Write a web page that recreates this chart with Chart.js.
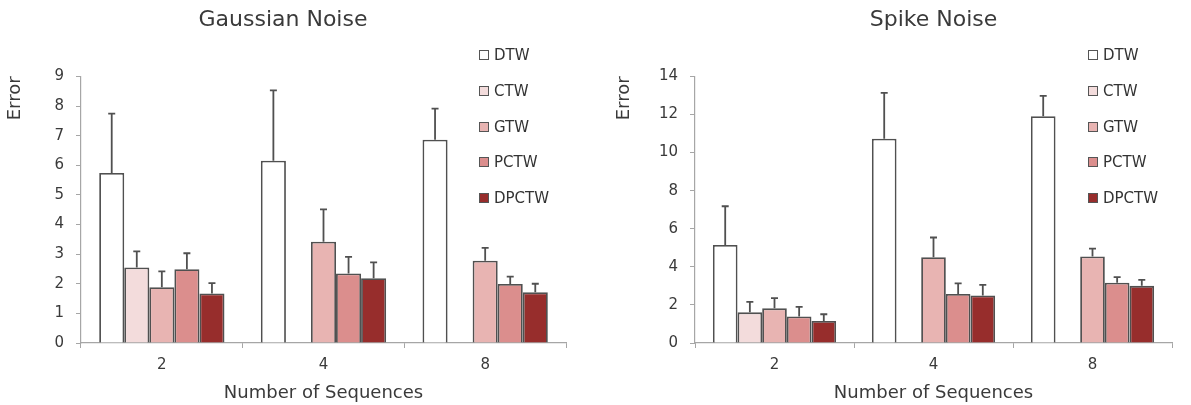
<!DOCTYPE html>
<html>
<head>
<meta charset="utf-8">
<script src="https://cdn.jsdelivr.net/npm/chart.js@4.4.1/dist/chart.umd.min.js"></script>
<style>
  body { margin: 0; background: #fff; }
  #wrap { position: relative; width: 1191px; height: 405px; overflow: hidden; }
  canvas { position: absolute; top: 0; }
  .leg { position: absolute; font: 15px "DejaVu Sans", sans-serif; color: #333; line-height: 18px; white-space: nowrap; }
  .leg span { position: absolute; top: 4px; width: 8px; height: 8px; border: 1.5px solid #555; }
</style>
</head>
<body>
<div id="wrap">
  <canvas id="gaussChart" width="675" height="405" style="left:0px"></canvas>
  <canvas id="spikeChart" width="591" height="405" style="left:600px"></canvas>
</div>
<script>
const categories = ['2', '4', '8'];
const methods = ['DTW', 'CTW', 'GTW', 'PCTW', 'DPCTW'];
const methodColors = ['#ffffff', '#f3dcdc', '#e8b4b2', '#db8e8d', '#972d2c'];

// Gaussian noise: mean error and upper error bar size
const gaussianDTW = [5.74, 6.15, 6.86];
const gaussianCTW = [2.55, null, null];
const gaussianGTW = [1.88, 3.42, 2.78];
const gaussianPCTW = [2.49, 2.35, 1.99];
const gaussianDPCTW = [1.67, 2.19, 1.71];
const gaussianDTWErr = [2.0, 2.38, 1.05];
const gaussianCTWErr = [0.54, null, null];
const gaussianGTWErr = [0.54, 1.09, 0.43];
const gaussianPCTWErr = [0.54, 0.56, 0.25];
const gaussianDPCTWErr = [0.35, 0.53, 0.29];

// Spike noise
const spikeDTW = [5.15, 10.73, 11.91];
const spikeCTW = [1.61, null, null];
const spikeGTW = [1.82, 4.5, 4.54];
const spikePCTW = [1.39, 2.57, 3.16];
const spikeDPCTW = [1.16, 2.5, 3.0];
const spikeDTWErr = [2.03, 2.41, 1.07];
const spikeCTWErr = [0.55, null, null];
const spikeGTWErr = [0.54, 1.04, 0.42];
const spikePCTWErr = [0.51, 0.56, 0.3];
const spikeDPCTWErr = [0.35, 0.55, 0.32];

const gaussianMax = 9, gaussianStep = 1;
const spikeMax = 14, spikeStep = 2;

const textColor = '#3a3a3a';
const axisColor = '#a6a6a6';

const errorBars = {
  id: 'errorBars',
  afterDatasetsDraw(chart) {
    const ctx = chart.ctx;
    const y = chart.scales.y;
    ctx.save();
    ctx.strokeStyle = '#505050';
    ctx.lineWidth = 1.8;
    chart.data.datasets.forEach((ds, i) => {
      const meta = chart.getDatasetMeta(i);
      meta.data.forEach((bar, j) => {
        const v = ds.data[j];
        if (v == null || ds.errors[j] == null) return;
        const top = y.getPixelForValue(v + ds.errors[j]);
        ctx.beginPath();
        ctx.moveTo(bar.x, bar.y);
        ctx.lineTo(bar.x, top);
        ctx.moveTo(bar.x - 3.5, top);
        ctx.lineTo(bar.x + 3.5, top);
        ctx.stroke();
      });
    });
    ctx.restore();
  }
};

function makeDatasets(values, errors) {
  return methods.map((m, i) => ({
    label: m,
    data: values[i],
    errors: errors[i],
    backgroundColor: methodColors[i],
    borderColor: '#505050',
    borderWidth: 1.8,
    categoryPercentage: 0.775,
    barPercentage: 1
  }));
}

function makeChart(id, title, values, errors, max, step, opts) {
  return new Chart(document.getElementById(id), {
    type: 'bar',
    data: { labels: categories, datasets: makeDatasets(values, errors) },
    plugins: [errorBars],
    options: {
      responsive: false,
      animation: false,
      layout: { padding: { left: 0, right: opts.padRight, top: 0, bottom: 0 } },
      plugins: {
        legend: { display: false },
        tooltip: { enabled: false },
        title: {
          display: true,
          text: title,
          fullSize: opts.fullTitle,
          color: textColor,
          font: { family: 'DejaVu Sans', size: 22, weight: 'normal' },
          padding: { top: 7, bottom: opts.titleGap }
        }
      },
      scales: {
        x: {
          grid: { drawOnChartArea: false, drawTicks: true, tickLength: 5, color: axisColor, offset: true },
          border: { color: axisColor, width: 1.2 },
          ticks: { color: textColor, font: { family: 'DejaVu Sans', size: 15 }, padding: 8 },
          title: {
            display: true,
            text: 'Number of Sequences',
            color: textColor,
            font: { family: 'DejaVu Sans', size: 18 },
            padding: { top: 0, bottom: 1 }
          },
          afterFit(scale) { scale.height = 62; }
        },
        y: {
          min: 0,
          max: max,
          grid: { drawOnChartArea: false, drawTicks: true, tickLength: 5, color: axisColor },
          border: { color: axisColor, width: 1.2 },
          ticks: { stepSize: step, color: textColor, font: { family: 'DejaVu Sans', size: 15 }, padding: 12 },
          title: {
            display: true,
            text: 'Error',
            align: 'end',
            color: textColor,
            font: { family: 'DejaVu Sans', size: 18 },
            padding: { top: opts.errPad, bottom: 0 }
          },
          afterFit(scale) { scale.width = opts.yWidth; }
        }
      }
    }
  });
}

makeChart('gaussChart', 'Gaussian Noise',
  [gaussianDTW, gaussianCTW, gaussianGTW, gaussianPCTW, gaussianDPCTW],
  [gaussianDTWErr, gaussianCTWErr, gaussianGTWErr, gaussianPCTWErr, gaussianDPCTWErr],
  gaussianMax, gaussianStep,
  { padRight: 109, fullTitle: true, titleGap: 43, errPad: 5, yWidth: 81 });

makeChart('spikeChart', 'Spike Noise',
  [spikeDTW, spikeCTW, spikeGTW, spikePCTW, spikeDPCTW],
  [spikeDTWErr, spikeCTWErr, spikeGTWErr, spikePCTWErr, spikeDPCTWErr],
  spikeMax, spikeStep,
  { padRight: 19, fullTitle: false, titleGap: 43, errPad: 14, yWidth: 95 });

// legends, same for both panels
function addLegend(boxLeft) {
  const wrap = document.getElementById('wrap');
  methods.forEach((m, i) => {
    const row = document.createElement('div');
    row.className = 'leg';
    row.style.left = boxLeft + 'px';
    row.style.top = (46 + i * 35.75) + 'px';
    row.style.paddingLeft = '15px';
    const box = document.createElement('span');
    box.style.left = '0px';
    box.style.background = methodColors[i];
    row.appendChild(box);
    row.appendChild(document.createTextNode(m));
    wrap.appendChild(row);
  });
}
addLegend(479);
addLegend(1088);
</script>
</body>
</html>
